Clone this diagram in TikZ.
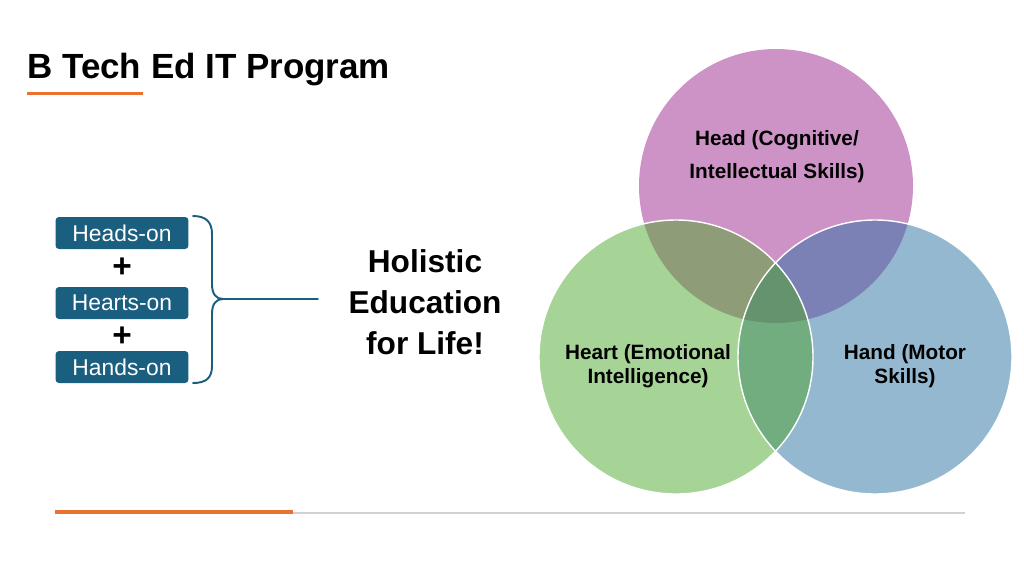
\documentclass[tikz,border=0pt]{standalone}
\usepackage{fontspec}
\setmainfont{Liberation Sans}
\usetikzlibrary{positioning, calc}

\begin{document}
\begin{tikzpicture}[
  x=0.02cm, y=-0.02cm,
  onbox/.style={fill=cTeal, text=white, rounded corners=2pt,
    minimum width=2.66cm, minimum height=0.64cm, inner sep=0pt,
    font=\fontsize{13}{15}\selectfont},
  plus/.style={font=\fontsize{19}{21}\selectfont\bfseries},
  vennlbl/.style={align=center, font=\fontsize{11.8}{13.6}\selectfont\bfseries},
  brace/.style={cTeal, line width=1.1pt, line cap=round},
]
\definecolor{cPink}{HTML}{CE93C6}   % head circle
\definecolor{cGreen}{HTML}{A6D396}  % heart circle
\definecolor{cBlue}{HTML}{95B8D1}   % hand circle
\definecolor{cPG}{HTML}{8E9C78}     % head + heart
\definecolor{cPB}{HTML}{7C81B5}     % head + hand
\definecolor{cGB}{HTML}{71AD7F}     % heart + hand
\definecolor{cAll}{HTML}{64936E}    % all three
\definecolor{cTeal}{HTML}{1A5E80}
\definecolor{cOrange}{HTML}{E97132}

\pgfmathsetmacro{\rr}{137}

\useasboundingbox (0,0) rectangle (1024,576);

% =====================================================================
% Title
% =====================================================================
\node[anchor=base west, inner sep=0pt, font=\fontsize{19.9}{22}\selectfont\bfseries]
  (title) at (27,78) {B Tech Ed IT Program};
\draw[cOrange, line width=1.7pt] (27,93) -- (143,93);

% =====================================================================
% Heads / Hearts / Hands stack
% =====================================================================
\foreach \nm/\yy/\txt in {heads/233/Heads-on, hearts/303/Hearts-on, hands/367/Hands-on}{
  \node[onbox] (\nm) at (122,\yy) {\txt};
}
\node[plus] (plusA) at (122,268) {+};
\node[plus] (plusB) at (122,337) {+};

% brace, tip pointing right
\coordinate (bracetip) at (223,299);
\coordinate (braceend) at (318,299);
\draw[brace] (193,216) .. controls (206,216) and (212,222) .. (212,234)
  -- (212,284) .. controls (212,294) and (216,299) .. (bracetip);
\draw[brace] (bracetip) .. controls (216,299) and (212,304) .. (212,314)
  -- (212,366) .. controls (212,378) and (206,383) .. (193,383);
\draw[brace] (bracetip) -- (braceend);

\node[align=center, font=\fontsize{18}{23.3}\selectfont\bfseries]
  (holistic) at (425,302) {Holistic\\Education\\for Life!};

% =====================================================================
% Venn diagram
% =====================================================================
\coordinate (head)  at (776,186);
\coordinate (heart) at (676,357);
\coordinate (hand)  at (875,357);

\fill[cPink]  (head)  circle (\rr);
\fill[cGreen] (heart) circle (\rr);
\fill[cBlue]  (hand)  circle (\rr);

\begin{scope}
  \clip (head) circle (\rr);
  \fill[cPG] (heart) circle (\rr);
  \fill[cPB] (hand) circle (\rr);
\end{scope}
\begin{scope}
  \clip (heart) circle (\rr);
  \fill[cGB] (hand) circle (\rr);
  \clip (hand) circle (\rr);
  \fill[cAll] (head) circle (\rr);
\end{scope}

\draw[white, line width=0.8pt] (heart) circle (\rr);
\draw[white, line width=0.8pt] (hand) circle (\rr);

\node[vennlbl, font=\fontsize{11.8}{18.7}\selectfont\bfseries]
  (headlbl) at (777,157) {Head (Cognitive/\\Intellectual Skills)};
\node[vennlbl] (heartlbl) at (648,366) {Heart (Emotional\\Intelligence)};
\node[vennlbl] (handlbl)  at (905,366) {Hand (Motor\\Skills)};

% =====================================================================
% Footer rule
% =====================================================================
\draw[black!18, line width=0.9pt] (293,513) -- (965,513);
\draw[cOrange, line width=2.8pt] (55,512) -- (293,512);

\end{tikzpicture}
\end{document}
